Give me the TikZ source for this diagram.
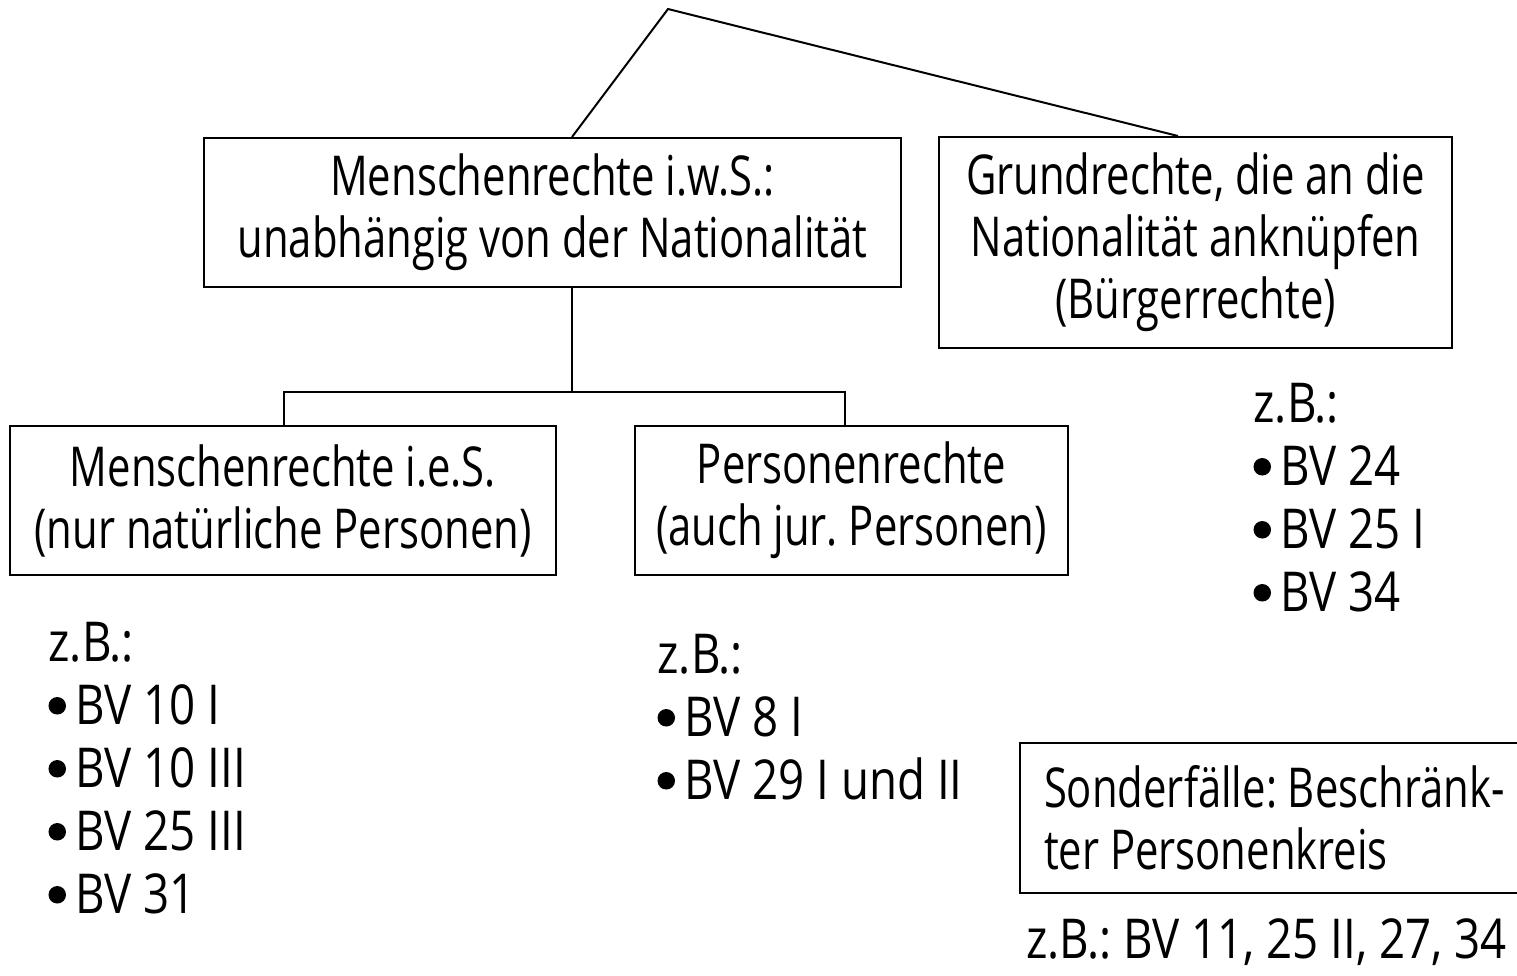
\documentclass[tikz,border=0pt]{standalone}
\usepackage{fontspec}
\setmainfont{Open Sans}[FakeStretch=0.76]
\newfontfamily\listfont{Open Sans}[FakeStretch=0.83]
\newcommand\bul{\tikz[baseline=0pt]\fill (0,7.6pt) circle (3.5pt);\kern3.8pt}
\frenchspacing
\begin{document}
\begin{tikzpicture}[x=0.4pt,y=-0.4pt,line width=0.8pt,
  box/.style={draw,line width=0.8pt,inner sep=0pt,align=center,
    font=\fontsize{22}{24.8}\selectfont},
  list/.style={inner sep=0pt,align=left,anchor=north west,
    font=\listfont\fontsize{22}{25.2}\selectfont}]
\useasboundingbox (0,0) rectangle (1517,975);
\clip (0,0) rectangle (1517,975);
\node[box,minimum width=278.8pt,minimum height=59.6pt] (A) at (552.5,212.5)
  {Menschenrechte i.w.S.:\\unabhängig von der Nationalität};
\node[box,minimum width=218.4pt,minimum height=59.6pt] (B) at (283,500.5)
  {Menschenrechte i.e.S.\\(nur natürliche Personen)};
\node[box,minimum width=173.2pt,minimum height=59.6pt] (C) at (851.5,500.5)
  {Personenrechte\\(auch jur. Personen)};
\node[box,minimum width=205.2pt,minimum height=84.4pt] (D) at (1195.5,242.5)
  {Grundrechte, die an die\\Nationalität anknüpfen\\(Bürgerrechte)};
\node[box,align=flush left,text width=189.2pt,inner xsep=9.6pt,minimum height=60pt,anchor=north west] (E) at (1019,742)
  {Sonderfälle: Beschränk-\\ter Personenkreis};
\coordinate (top) at (668,9);
\draw (A.north -| 572,0) -- (top) -- (D.north -| 1178,0);
\coordinate (bar) at (572,392);
\draw (A.south -| bar) -- (bar);
\draw (B.north -| 284,0) |- (bar) -| (C.north -| 845,0);
\node[list] (LB) at (48,622) {z.B.:\\\bul BV 10 I\\\bul BV 10 III\\\bul BV 25 III\\\bul BV 31};
\node[list] (LC) at (657,634) {z.B.:\\\bul BV 8 I\\\bul BV 29 I und II};
\node[list] (LD) at (1253,383) {z.B.:\\\bul BV 24\\\bul BV 25 I\\\bul BV 34};
\node[inner sep=0pt,anchor=base west,font=\listfont\fontsize{22}{25.2}\selectfont] (LE) at (1025,958) {z.B.: BV 11, 25 II, 27, 34};
\end{tikzpicture}
\end{document}
